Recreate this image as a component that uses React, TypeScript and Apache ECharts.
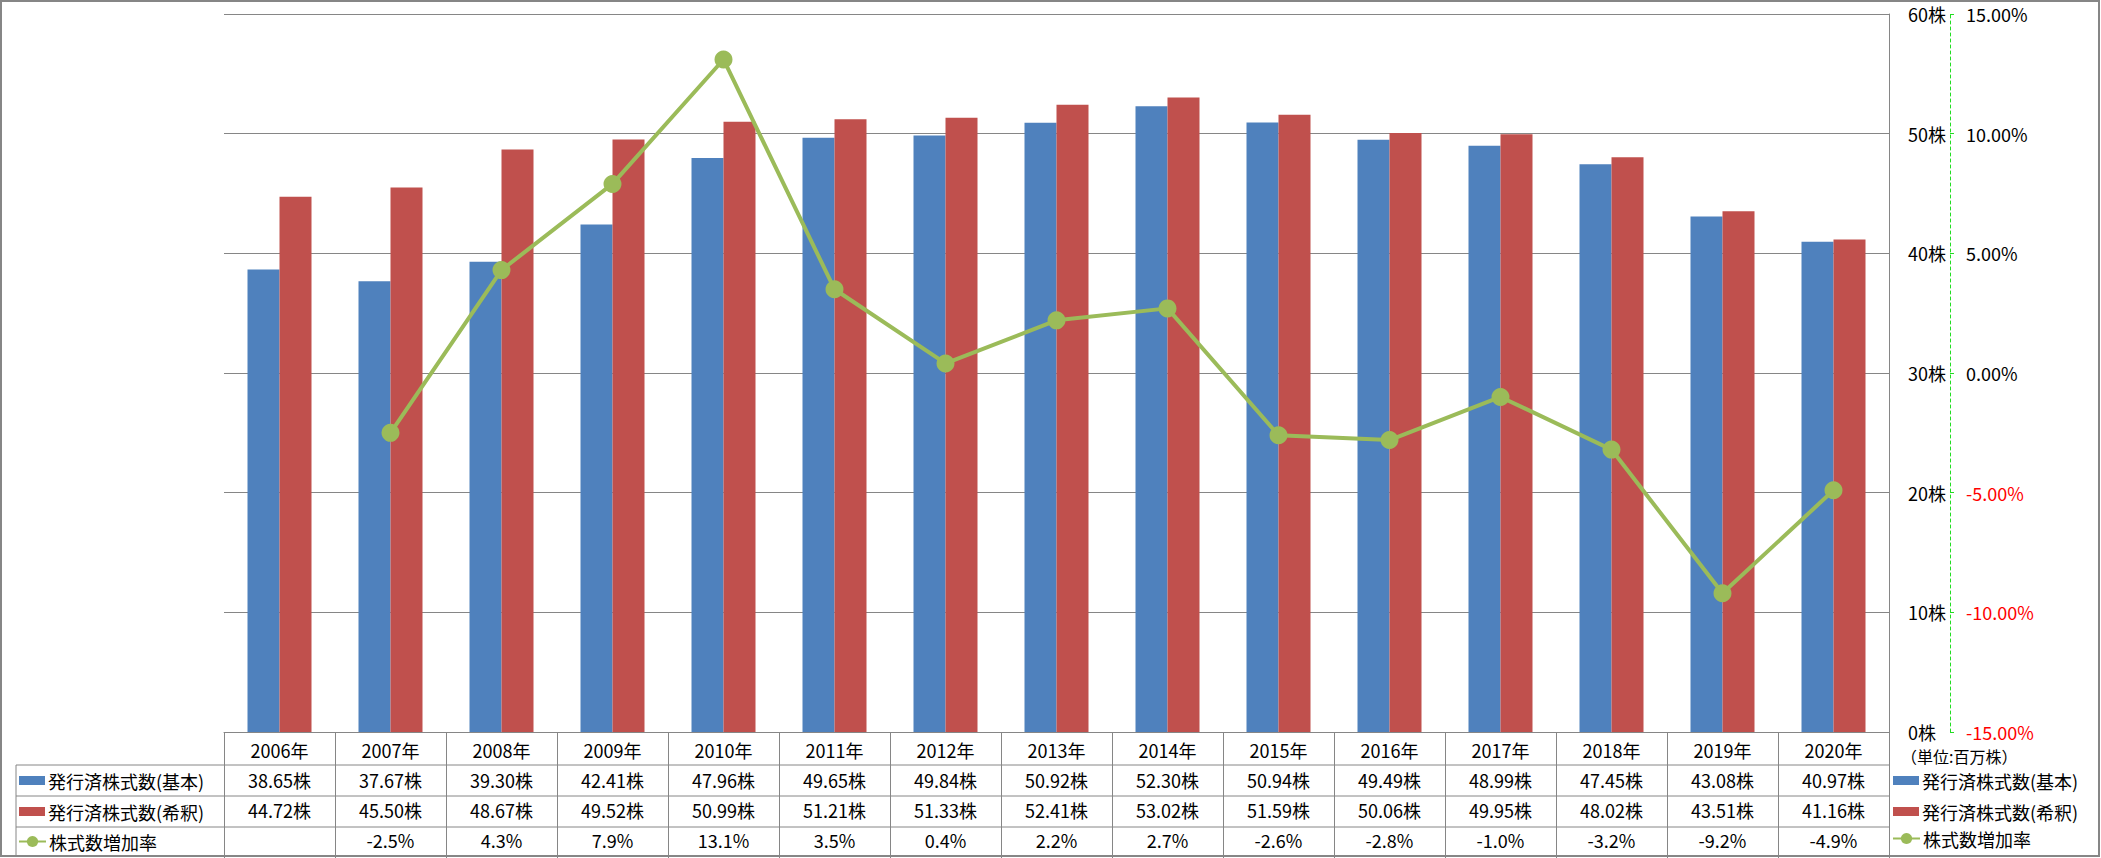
import React, { useEffect, useRef } from "react";
import * as echarts from "echarts";

const years = ["2006年", "2007年", "2008年", "2009年", "2010年", "2011年", "2012年", "2013年", "2014年", "2015年", "2016年", "2017年", "2018年", "2019年", "2020年"];
const basicShares = [38.65, 37.67, 39.3, 42.41, 47.96, 49.65, 49.84, 50.92, 52.3, 50.94, 49.49, 48.99, 47.45, 43.08, 40.97];
const dilutedShares = [44.72, 45.5, 48.67, 49.52, 50.99, 51.21, 51.33, 52.41, 53.02, 51.59, 50.06, 49.95, 48.02, 43.51, 41.16];
const growthRate: (number | null)[] = [null, -2.5, 4.3, 7.9, 13.1, 3.5, 0.4, 2.2, 2.7, -2.6, -2.8, -1.0, -3.2, -9.2, -4.9];

const seriesNames = ["発行済株式数(基本)", "発行済株式数(希釈)", "株式数増加率"];
const unitLabel = "（単位:百万株）";

const FONT = "'Noto Sans CJK JP', 'Noto Sans', sans-serif";
const GRAY = "#868686";
const BLUE = "#4F81BD";
const RED = "#C0504D";
const GREEN = "#9BBB59";

export default function App() {
  const ref = useRef<HTMLDivElement>(null);

  useEffect(() => {
    if (!ref.current) return;
    const chart = echarts.init(ref.current, null, { renderer: "svg" });

    const W = 2101;
    const H = 858;
    const gridRight = 1889;
    const gridTop = 14;
    const gridBottom = 732;

    const tableRowLine = (y: number) => ({
      type: "line",
      shape: { x1: 16, y1: y, x2: gridRight, y2: y },
      style: { stroke: GRAY, lineWidth: 1 },
      silent: true,
    });

    const rowAxis = (offset: number, fmt: (i: number) => string) => ({
      type: "category",
      data: years,
      position: "bottom",
      offset,
      axisLine: { show: false },
      axisTick: { show: false },
      splitLine: { show: false },
      axisLabel: {
        interval: 0,
        margin: 9,
        fontSize: 18,
        fontFamily: FONT,
        color: "#000",
        formatter: (_v: string, i: number) => fmt(i),
      },
    });

    const legendText = { fontSize: 18, fontFamily: FONT, color: "#000", lineHeight: 21, padding: [0, 0, 0, -2] };
    const barLegend = (left: number, top: number, gap: number) => ({
      orient: "vertical",
      selectedMode: false,
      padding: 0,
      left,
      top,
      itemGap: gap,
      itemWidth: 26,
      itemHeight: 9,
      textStyle: legendText,
      data: [
        { name: seriesNames[0], icon: "rect" },
        { name: seriesNames[1], icon: "rect" },
      ],
    });
    const lineLegend = (left: number, top: number) => ({
      orient: "vertical",
      selectedMode: false,
      padding: 0,
      left,
      top,
      itemWidth: 27,
      itemHeight: 14,
      textStyle: legendText,
      data: [{ name: seriesNames[2] }],
    });

    const option = {
      animation: false,
      backgroundColor: "#fff",
      textStyle: { fontFamily: FONT },
      grid: {
        left: 224,
        right: W - gridRight,
        top: gridTop,
        bottom: H - gridBottom,
        containLabel: false,
      },
      legend: [
        barLegend(19, 770, 10),
        lineLegend(18, 831),
        barLegend(1893, 770, 10),
        lineLegend(1892, 828),
      ],
      xAxis: [
        {
          type: "category",
          data: years,
          position: "bottom",
          axisLine: { show: true, lineStyle: { color: GRAY, width: 1 } },
          axisTick: { show: true, interval: 0, length: H - gridBottom, lineStyle: { color: GRAY, width: 1 } },
          axisLabel: { interval: 0, margin: 9, fontSize: 18, fontFamily: FONT, color: "#000" },
          splitLine: { show: false },
        },
        rowAxis(30, (i) => basicShares[i].toFixed(2) + "株"),
        rowAxis(60, (i) => dilutedShares[i].toFixed(2) + "株"),
        rowAxis(90, (i) => (growthRate[i] === null ? "" : (growthRate[i] as number).toFixed(1) + "%")),
      ],
      yAxis: [
        {
          type: "value",
          position: "right",
          min: 0,
          max: 60,
          interval: 10,
          axisLine: { show: true, lineStyle: { color: GRAY, width: 1 } },
          axisTick: { show: false },
          splitLine: { show: true, lineStyle: { color: GRAY, width: 1 } },
          axisLabel: { margin: 19, fontSize: 18, fontFamily: FONT, color: "#000", formatter: "{value}株" },
        },
        {
          type: "value",
          position: "right",
          offset: 61,
          min: -15,
          max: 15,
          interval: 5,
          axisLine: { show: true, lineStyle: { color: "#22dd22", width: 1, type: [3, 3] } },
          axisTick: { show: true, length: 4, lineStyle: { color: "#22dd22", width: 1 } },
          splitLine: { show: false },
          axisLabel: {
            margin: 16,
            formatter: (v: number) => {
              const s = v.toFixed(2) + "%";
              return v < 0 ? `{neg|${s}}` : `{pos|${s}}`;
            },
            rich: {
              neg: { color: "#ff0000", fontSize: 18, fontFamily: FONT },
              pos: { color: "#000", fontSize: 18, fontFamily: FONT },
            },
          },
        },
      ],
      series: [
        {
          name: seriesNames[0],
          type: "bar",
          data: basicShares,
          barWidth: 32,
          barGap: "0%",
          itemStyle: { color: BLUE },
        },
        {
          name: seriesNames[1],
          type: "bar",
          data: dilutedShares,
          barWidth: 32,
          barGap: "0%",
          itemStyle: { color: RED },
        },
        {
          name: seriesNames[2],
          type: "line",
          yAxisIndex: 1,
          data: growthRate,
          connectNulls: false,
          symbol: "circle",
          symbolSize: 18,
          lineStyle: { color: GREEN, width: 4 },
          itemStyle: { color: GREEN },
          z: 5,
        },
      ],
      graphic: [
        {
          type: "rect",
          shape: { x: 1, y: 1, width: W - 3, height: H - 3 },
          style: { fill: "none", stroke: GRAY, lineWidth: 2 },
          silent: true,
          z: -1,
        },
        tableRowLine(765),
        tableRowLine(796),
        tableRowLine(827),
        tableRowLine(856),
        {
          type: "line",
          shape: { x1: 16, y1: 765, x2: 16, y2: 856 },
          style: { stroke: GRAY, lineWidth: 1 },
          silent: true,
        },
        {
          type: "text",
          left: 1901,
          top: 748,
          style: { text: unitLabel, fontSize: 16, fontFamily: FONT, fill: "#000" },
          silent: true,
        },
      ],
    };

    chart.setOption(option as any);
    return () => chart.dispose();
  }, []);

  return (
    <div
      ref={ref}
      style={{ position: "fixed", left: 0, top: 0, width: 2101, height: 858, background: "#fff" }}
    />
  );
}
